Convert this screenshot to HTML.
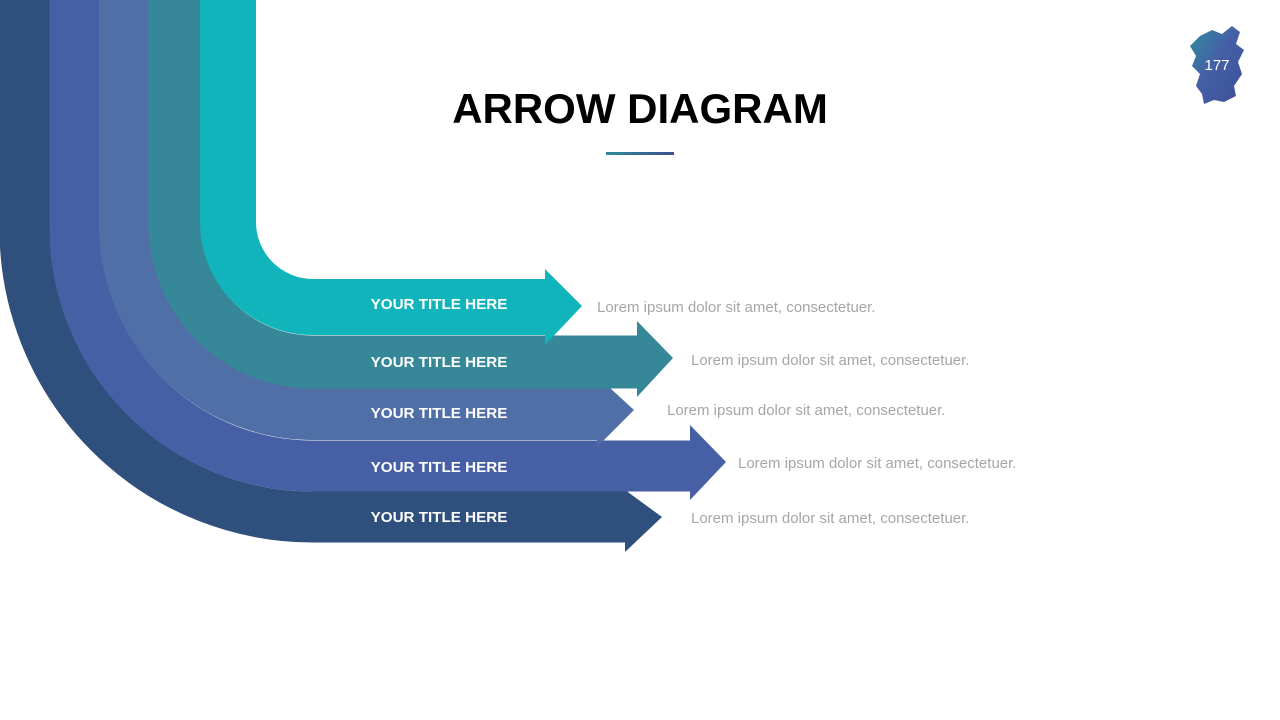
<!DOCTYPE html>
<html><head><meta charset="utf-8"><style>
html,body{margin:0;padding:0;background:#fff;}
svg{display:block}
</style></head><body>
<svg width="1280" height="720" viewBox="0 0 1280 720" xmlns="http://www.w3.org/2000/svg">
<defs>
<linearGradient id="ul" x1="0" x2="1"><stop offset="0" stop-color="#2e8a9a"/><stop offset="1" stop-color="#3c4f8c"/></linearGradient>
<linearGradient id="lg" x1="0" y1="0" x2="1" y2="1"><stop offset="0" stop-color="#2f8ea0"/><stop offset="0.45" stop-color="#4560a6"/><stop offset="1" stop-color="#3b4f99"/></linearGradient>
</defs>
<path d="M25,0 V228 A288,288 0 0 0 313,517 H628" fill="none" stroke="#2f4f7c" stroke-width="51"/>
<polygon points="625,490 662,517 625,552" fill="#2f4f7c"/>
<path d="M75,0 V228 A238,238 0 0 0 313,466 H692" fill="none" stroke="#4760a5" stroke-width="51"/>
<polygon points="690,425 726,462 690,500" fill="#4760a5"/>
<path d="M125,0 V228 A188,188 0 0 0 313,414 H600" fill="none" stroke="#4f6fa6" stroke-width="52"/>
<polygon points="597,376 634,410 597,447" fill="#4f6fa6"/>
<path d="M175,0 V225 A138,138 0 0 0 313,362 H640" fill="none" stroke="#368898" stroke-width="53"/>
<polygon points="637,321 673,358 637,397" fill="#368898"/>
<path d="M228,0 V222 A85,85 0 0 0 313,307 H548" fill="none" stroke="#12b4bc" stroke-width="56"/>
<polygon points="545,269 582,306 545,345" fill="#12b4bc"/>

<g font-family="Liberation Sans, sans-serif" font-weight="bold" font-size="15.2" fill="#fff" text-anchor="middle">
<text x="439" y="309">YOUR TITLE HERE</text>
<text x="439" y="367">YOUR TITLE HERE</text>
<text x="439" y="418">YOUR TITLE HERE</text>
<text x="439" y="472">YOUR TITLE HERE</text>
<text x="439" y="522">YOUR TITLE HERE</text>
</g>
<g font-family="Liberation Sans, sans-serif" font-size="15" fill="#a6a6a6">
<text x="597" y="312">Lorem ipsum dolor sit amet, consectetuer.</text>
<text x="691" y="365">Lorem ipsum dolor sit amet, consectetuer.</text>
<text x="667" y="415">Lorem ipsum dolor sit amet, consectetuer.</text>
<text x="738" y="468">Lorem ipsum dolor sit amet, consectetuer.</text>
<text x="691" y="523">Lorem ipsum dolor sit amet, consectetuer.</text>
</g>
<text x="640" y="123" text-anchor="middle" font-family="Liberation Sans, sans-serif" font-weight="bold" font-size="42" fill="#000">ARROW DIAGRAM</text>
<rect x="606" y="152" width="68" height="3" fill="url(#ul)"/>
<path d="M1200,36 L1212,30 L1222,34 L1232,26 L1240,32 L1236,44 L1244,50 L1238,62 L1242,74 L1234,86 L1236,96 L1224,102 L1214,100 L1204,104 L1202,94 L1196,86 L1200,74 L1192,66 L1196,56 L1190,46 Z" fill="url(#lg)"/>
<text x="1217" y="70" text-anchor="middle" font-family="Liberation Sans, sans-serif" font-size="15" fill="#fff">177</text>
</svg>
</body></html>
